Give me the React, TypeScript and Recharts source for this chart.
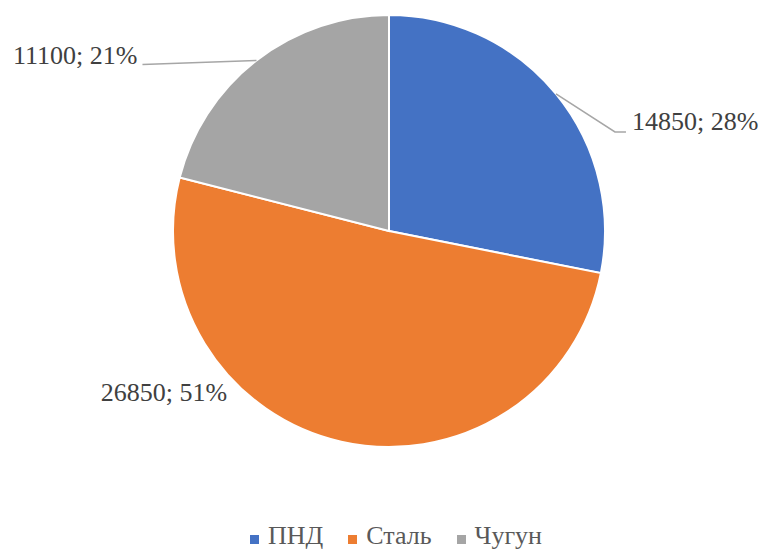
import { PieChart, Pie, Cell, Legend } from 'recharts';

const categories = ['ПНД', 'Сталь', 'Чугун'];
const values = [14850, 26850, 11100];
const colors = ['#4472C4', '#ED7D31', '#A5A5A5'];

const data = categories.map((name, i) => ({ name, value: values[i] }));

const RAD = Math.PI / 180;
const FONT = 'Liberation Serif, DejaVu Serif, serif';
const FS = 26;

function renderLabel(props: any) {
  const { cx, cy, midAngle, outerRadius, index, value, percent } = props;
  const text = `${value}; ${Math.round(percent * 100)}%`;
  const sx = cx + outerRadius * Math.cos(-midAngle * RAD);
  const sy = cy + outerRadius * Math.sin(-midAngle * RAD);
  const t = { fontFamily: FONT, fontSize: FS, fill: '#404040', dominantBaseline: 'central' as const };

  if (index === 0) {
    return (
      <g key={`l${index}`}>
        <polyline
          points={`${sx},${sy} ${sx + 59},${sy + 38} ${sx + 70},${sy + 38}`}
          fill="none"
          stroke="#A6A6A6"
          strokeWidth={1.5}
        />
        <text x={sx + 76} y={sy + 28} textAnchor="start" {...t}>
          {text}
        </text>
      </g>
    );
  }
  if (index === 2) {
    return (
      <g key={`l${index}`}>
        <polyline
          points={`${sx},${sy} ${sx - 114},${sy + 4}`}
          fill="none"
          stroke="#A6A6A6"
          strokeWidth={1.5}
        />
        <text x={sx - 119} y={sy - 5} textAnchor="end" {...t}>
          {text}
        </text>
      </g>
    );
  }
  return (
    <text key={`l${index}`} x={sx - 114} y={sy - 49} textAnchor="end" {...t}>
      {text}
    </text>
  );
}

function renderLegend(props: any) {
  const { payload } = props;
  return (
    <div style={{ display: 'flex', justifyContent: 'center', paddingLeft: 30, fontFamily: FONT, fontSize: FS }}>
      {payload.map((p: any, i: number) => (
        <div key={p.value} style={{ display: 'flex', alignItems: 'center', marginLeft: i ? 25 : 0 }}>
          <span style={{ width: 9, height: 9, background: p.color, display: 'inline-block', marginRight: 9, marginTop: 6 }} />
          <span style={{ color: '#595959' }}>{p.value}</span>
        </div>
      ))}
    </div>
  );
}

export default function App() {
  return (
    <div style={{ position: 'absolute', left: 0, top: 0, background: '#fff' }}>
      <PieChart width={762} height={550} margin={{ top: 0, right: 0, bottom: 0, left: 0 }}>
        <Pie
          data={data}
          dataKey="value"
          nameKey="name"
          cx={389}
          cy={231}
          outerRadius={216}
          startAngle={90}
          endAngle={-270}
          stroke="#fff"
          strokeWidth={2}
          label={renderLabel}
          labelLine={false}
          isAnimationActive={false}
        >
          {data.map((d, i) => (
            <Cell key={d.name} fill={colors[i]} />
          ))}
        </Pie>
        <Legend
          verticalAlign="bottom"
          content={renderLegend}
          wrapperStyle={{ top: 521, bottom: 'auto', left: 0, width: 762 }}
        />
      </PieChart>
    </div>
  );
}
